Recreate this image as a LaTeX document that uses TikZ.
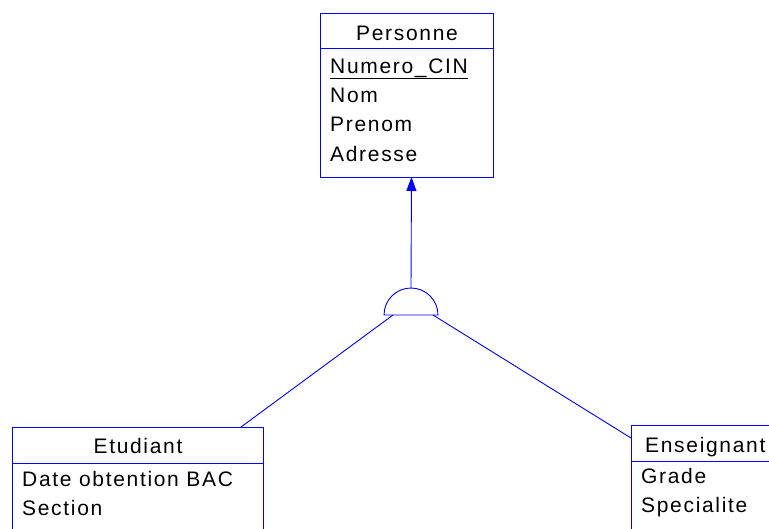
\documentclass[tikz,border=0pt]{standalone}
\usepackage{fontspec}
\setmainfont{Liberation Sans}[LetterSpace=8]
\usetikzlibrary{arrows.meta,calc}
\definecolor{erblue}{RGB}{0,0,255}
\tikzset{
  entity/.style={draw=erblue, line width=0.9pt, rectangle, anchor=north west, inner sep=0pt},
  sep/.style={draw=erblue, line width=0.9pt},
  link/.style={draw=erblue, line width=0.9pt},
  lbl/.style={anchor=base west, inner sep=0pt, font=\fontsize{21}{25}\selectfont},
  ttl/.style={anchor=base, inner sep=0pt, font=\fontsize{21}{25}\selectfont},
}
\begin{document}
\begin{tikzpicture}[x=1pt,y=-1pt]
\useasboundingbox (0,0) rectangle (769,528);
\clip (0,0) rectangle (769,528);

% Personne entity
\node[entity, minimum width=173pt, minimum height=164pt] (pers) at (320,13) {};
\draw[sep] (320,48) -- (493,48);
\node[ttl] (persT) at (407,40) {Personne};
\node[lbl] (persA) at (330,73) {\underline{Numero\_CIN}};
\node[lbl] (persB) at (330,102) {Nom};
\node[lbl] (persC) at (330,131) {Prenom};
\node[lbl] (persD) at (330,161) {Adresse};

% Etudiant entity
\node[entity, minimum width=251pt, minimum height=120pt] (etu) at (12,427) {};
\draw[sep] (12,463) -- (263,463);
\node[ttl] (etuT) at (138,453) {Etudiant};
\node[lbl] (etuA) at (22,486) {Date obtention BAC};
\node[lbl] (etuB) at (22,515) {Section};

% Enseignant entity
\node[entity, minimum width=160pt, minimum height=120pt] (ens) at (631,425) {};
\draw[sep] (631,461) -- (791,461);
\node[lbl] (ensT) at (645,452) {Enseignant};
\node[lbl] (ensA) at (641,483) {Grade};
\node[lbl] (ensB) at (641,512) {Specialite};

% Inheritance symbol (half circle on its base line)
\coordinate (inh) at (411,315);
\coordinate (inhTop) at (411,288);
\coordinate (inhL) at (393,315);
\coordinate (inhR) at (433,315);
\draw[link] (384,315) arc[start angle=180, end angle=360, radius=27] -- cycle;

% Connectors
\coordinate (persBot) at (411.5,177);
\draw[link, -{Triangle[length=14pt,width=10pt]}] (inhTop) -- (persBot);
\coordinate (etuTop) at (241,427);
\coordinate (ensLeft) at (631,438);
\draw[link] (inhL) -- (etuTop);
\draw[link] (inhR) -- (ensLeft);
\end{tikzpicture}
\end{document}
